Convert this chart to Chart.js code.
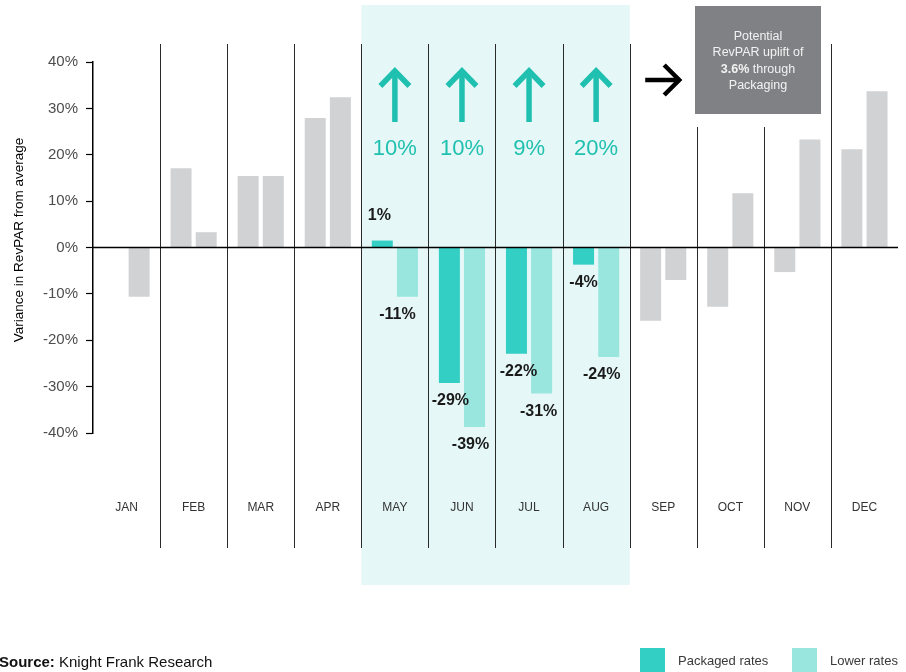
<!DOCTYPE html>
<html><head><meta charset="utf-8">
<script src="https://cdn.jsdelivr.net/npm/chart.js@4.4.1/dist/chart.umd.min.js"></script>
<style>html,body{margin:0;padding:0;background:#fff;}canvas{display:block;}</style>
</head><body>
<canvas id="c" width="906" height="672"></canvas>
<script>
// ---- data ----
const months = ['JAN','FEB','MAR','APR','MAY','JUN','JUL','AUG','SEP','OCT','NOV','DEC'];
const packagedRates = [null, 17.1, 15.4, 27.9, 1.5, -29.2, -22.9, -3.7, -15.8, -12.8, -5.3, 21.2];
const lowerRates = [-10.6, 3.3, 15.4, 32.4, -10.6, -38.7, -31.5, -23.6, -7.0, 11.7, 23.3, 33.7];
const packagedLabels = [null,null,null,null,'1%','-29%','-22%','-4%',null,null,null,null];
const lowerLabels = [null,null,null,null,'-11%','-39%','-31%','-24%',null,null,null,null];
const upliftLabels = [null,null,null,null,'10%','10%','9%','20%',null,null,null,null];
const highlightMonths = ['MAY','JUN','JUL','AUG'];
const yTicks = [-40,-30,-20,-10,0,10,20,30,40];
const seriesNames = ['Packaged rates','Lower rates'];
const sourceBold = 'Source:';
const sourceText = ' Knight Frank Research';
const boxLines = ['Potential','RevPAR uplift of',['3.6%',' through'],'Packaging'];

// ---- styles ----
const FONT = '"Liberation Sans", Arial, Helvetica, sans-serif';
const PACK = '#33cec4', LOWER = '#99e6df', GREY = '#d1d2d4', SHADE = '#e5f7f7', TEAL = '#1fc0af';
const isHi = m => highlightMonths.includes(m);
const packDx = [0,0,0,0,-3,1,2,0,0,0,0,0];
const lowerDx = [0,0,0,0,-10,-4,-3,-7,0,0,0,0];

const deco = {
  id: 'deco',
  beforeDraw(chart) {
    const {ctx, scales: {x, y}} = chart;
    ctx.save();
    ctx.fillStyle = '#fff';
    ctx.fillRect(0, 0, chart.width, chart.height);
    const half = (x.getPixelForValue(1) - x.getPixelForValue(0)) / 2;
    const hi = months.map((m, i) => isHi(m) ? i : -1).filter(i => i >= 0);
    const sx0 = x.getPixelForValue(hi[0]) - half;
    const sx1 = x.getPixelForValue(hi[hi.length - 1]) + half;
    ctx.fillStyle = SHADE;
    ctx.fillRect(sx0, 5, sx1 - sx0, 580);
    ctx.strokeStyle = '#2a2a2a';
    ctx.lineWidth = 1;
    for (let i = 1; i < months.length; i++) {
      const px = Math.round(x.getPixelForValue(i) - half) + 0.5;
      const top = (i === 9 || i === 10) ? 127 : 44;
      ctx.beginPath();
      ctx.moveTo(px, top);
      ctx.lineTo(px, 548);
      ctx.stroke();
    }
    ctx.restore();
  },
  afterDatasetsDraw(chart) {
    const {ctx, chartArea, scales: {x, y}} = chart;
    ctx.save();
    const y0 = y.getPixelForValue(0);
    ctx.strokeStyle = '#000';
    ctx.lineWidth = 1.6;
    ctx.beginPath();
    ctx.moveTo(chartArea.left, y0);
    ctx.lineTo(chartArea.right, y0);
    ctx.stroke();
    ctx.font = 'bold 16px ' + FONT;
    ctx.fillStyle = '#1a1a1a';
    ctx.textAlign = 'center';
    ctx.textBaseline = 'middle';
    const draw = (ds, labels, dx) => {
      const meta = chart.getDatasetMeta(ds);
      labels.forEach((t, i) => {
        if (!t) return;
        const el = meta.data[i];
        const v = chart.data.datasets[ds].data[i];
        const yy = v >= 0 ? el.y - 25 : el.y + 18;
        ctx.fillText(t, el.x + dx[i], yy);
      });
    };
    draw(0, packagedLabels, packDx);
    draw(1, lowerLabels, lowerDx);
    ctx.restore();
  },
  afterDraw(chart) {
    const {ctx, scales: {x}} = chart;
    ctx.save();
    upliftLabels.forEach((t, i) => {
      if (!t) return;
      const cx = x.getPixelForValue(i);
      ctx.strokeStyle = TEAL;
      ctx.lineWidth = 5.5;
      ctx.lineJoin = 'miter';
      ctx.lineCap = 'butt';
      ctx.beginPath();
      ctx.moveTo(cx, 122);
      ctx.lineTo(cx, 71);
      ctx.stroke();
      ctx.beginPath();
      ctx.moveTo(cx - 14.5, 86);
      ctx.lineTo(cx, 71);
      ctx.lineTo(cx + 14.5, 86);
      ctx.stroke();
      ctx.fillStyle = TEAL;
      ctx.font = '22px ' + FONT;
      ctx.textAlign = 'center';
      ctx.textBaseline = 'middle';
      ctx.fillText(t, cx, 149);
    });
    const ax = x.getPixelForValue(8);
    ctx.strokeStyle = '#000';
    ctx.lineWidth = 4.5;
    ctx.lineJoin = 'miter';
    ctx.beginPath();
    ctx.moveTo(ax - 18, 80);
    ctx.lineTo(ax + 16, 80);
    ctx.stroke();
    ctx.beginPath();
    ctx.moveTo(ax + 1, 65);
    ctx.lineTo(ax + 16, 80);
    ctx.lineTo(ax + 1, 95);
    ctx.stroke();
    ctx.fillStyle = '#808184';
    ctx.fillRect(695, 6, 126, 108);
    const bcx = 758;
    ctx.fillStyle = '#f2f2f2';
    ctx.textBaseline = 'middle';
    const ly = [37, 53, 70, 86];
    boxLines.forEach((l, k) => {
      if (Array.isArray(l)) {
        ctx.font = 'bold 12.5px ' + FONT;
        const w1 = ctx.measureText(l[0]).width;
        ctx.font = '12.5px ' + FONT;
        const w2 = ctx.measureText(l[1]).width;
        let sx = bcx - (w1 + w2) / 2;
        ctx.textAlign = 'left';
        ctx.font = 'bold 12.5px ' + FONT;
        ctx.fillText(l[0], sx, ly[k]);
        ctx.font = '12.5px ' + FONT;
        ctx.fillText(l[1], sx + w1, ly[k]);
      } else {
        ctx.textAlign = 'center';
        ctx.font = '12.5px ' + FONT;
        ctx.fillText(l, bcx, ly[k]);
      }
    });
    const legendX = [640, 792];
    const cols = [PACK, LOWER];
    ctx.textAlign = 'left';
    ctx.textBaseline = 'middle';
    ctx.font = '13px ' + FONT;
    seriesNames.forEach((n, k) => {
      ctx.fillStyle = cols[k];
      ctx.fillRect(legendX[k], 648, 25, 24);
      ctx.fillStyle = '#3a3a3a';
      ctx.fillText(n, legendX[k] + 38, 661);
    });
    ctx.fillStyle = '#111';
    ctx.font = 'bold 15px ' + FONT;
    ctx.fillText(sourceBold, -1, 663);
    const sw = ctx.measureText(sourceBold).width;
    ctx.font = '15px ' + FONT;
    ctx.fillText(sourceText, -1 + sw, 663);
    // y-axis title
    ctx.save();
    ctx.translate(19, 240);
    ctx.rotate(-Math.PI / 2);
    ctx.textAlign = 'center';
    ctx.fillStyle = '#000';
    ctx.font = '13.5px ' + FONT;
    ctx.fillText(chart.options.scales.y.title.text, 0, 0);
    ctx.restore();
    ctx.restore();
  }
};

new Chart(document.getElementById('c'), {
  type: 'bar',
  data: {
    labels: months,
    datasets: [
      { label: seriesNames[0], data: packagedRates, backgroundColor: months.map(m => isHi(m) ? PACK : GREY),
        borderWidth: 0, categoryPercentage: 0.75, barPercentage: 0.835 },
      { label: seriesNames[1], data: lowerRates, backgroundColor: months.map(m => isHi(m) ? LOWER : GREY),
        borderWidth: 0, categoryPercentage: 0.75, barPercentage: 0.835 }
    ]
  },
  options: {
    responsive: false,
    animation: false,
    devicePixelRatio: 1,
    layout: { padding: { top: 62, right: 8, left: 0, bottom: 0 } },
    plugins: { legend: { display: false }, tooltip: { enabled: false } },
    scales: {
      x: {
        grid: { display: false, drawTicks: false, tickLength: 0 },
        border: { display: false },
        ticks: { color: '#333', font: { family: FONT, size: 12 }, padding: 67, maxRotation: 0, autoSkip: false },
        afterFit(s) { s.height = 239; s.paddingLeft = 0; s.paddingRight = 0; }
      },
      y: {
        min: -40, max: 40,
        afterBuildTicks(s) { s.ticks = yTicks.map(v => ({ value: v })); },
        grid: { display: true, drawOnChartArea: false, drawTicks: true, tickLength: 7, tickColor: '#000', tickWidth: 1.2 },
        border: { display: true, color: '#000', width: 1.5 },
        ticks: { color: '#4d4d4d', font: { family: FONT, size: 15 }, padding: 8, callback: v => v + '%' },
        title: { display: false, text: 'Variance in RevPAR from average' },
        afterFit(s) { s.width = 93; }
      }
    }
  },
  plugins: [deco]
});
</script>
</body></html>
